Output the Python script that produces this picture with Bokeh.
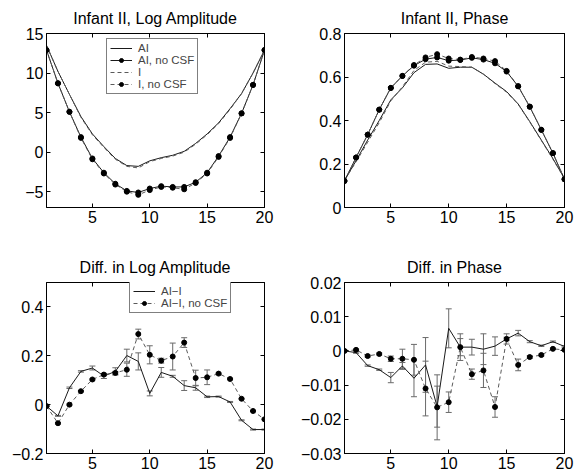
from bokeh.plotting import figure
from bokeh.models import Range1d, FixedTicker, LinearAxis, Whisker, TeeHead, ColumnDataSource
from bokeh.layouts import column, row
from bokeh.embed import file_html
from bokeh.resources import INLINE

x = list(range(1, 21))

# Infant II, Log Amplitude
amp_ai = [13.5, 10.2, 7.3, 4.5, 2.3, 0.7, -0.8, -1.7, -1.8, -1.1, -0.7, -0.4, 0.1, 1.1, 2.3, 3.7, 5.5, 7.4, 10.0, 12.9]
amp_i = [13.5, 10.2, 7.3, 4.4, 2.2, 0.6, -0.9, -1.8, -2.0, -1.2, -0.8, -0.5, 0.0, 1.0, 2.2, 3.6, 5.4, 7.4, 10.0, 12.9]
amp_ai_nocsf = [12.9, 8.7, 5.1, 1.9, -0.8, -2.6, -4.0, -4.9, -5.1, -4.6, -4.3, -4.4, -4.4, -3.8, -2.6, -0.5, 1.9, 4.9, 8.5, 12.9]
amp_i_nocsf = [12.9, 8.7, 5.1, 1.8, -0.9, -2.7, -4.1, -5.0, -5.4, -4.8, -4.4, -4.5, -4.7, -3.9, -2.7, -0.6, 1.8, 4.9, 8.5, 12.9]

# Infant II, Phase
ph_ai = [0.125, 0.215, 0.31, 0.40, 0.495, 0.55, 0.62, 0.658, 0.66, 0.64, 0.645, 0.645, 0.613, 0.572, 0.533, 0.476, 0.395, 0.31, 0.225, 0.133]
ph_i = [0.125, 0.21, 0.30, 0.39, 0.49, 0.555, 0.63, 0.668, 0.672, 0.65, 0.648, 0.645, 0.613, 0.57, 0.53, 0.474, 0.393, 0.308, 0.222, 0.133]
ph_ai_nocsf = [0.122, 0.23, 0.335, 0.45, 0.55, 0.605, 0.652, 0.682, 0.69, 0.675, 0.678, 0.688, 0.68, 0.663, 0.625, 0.557, 0.463, 0.357, 0.25, 0.13]
ph_i_nocsf = [0.122, 0.23, 0.335, 0.45, 0.55, 0.605, 0.655, 0.69, 0.705, 0.685, 0.68, 0.692, 0.685, 0.673, 0.628, 0.558, 0.464, 0.357, 0.25, 0.13]

# Diff. in Log Amplitude
damp = [-0.006, -0.046, 0.069, 0.136, 0.150, 0.117, 0.136, 0.201, 0.177, 0.046, 0.132, 0.116, 0.078, 0.069, 0.032, 0.033, 0.011, -0.064, -0.102, -0.102]
damp_err = [0.002, 0.002, 0.003, 0.003, 0.008, 0.01, 0.015, 0.026, 0.035, 0.01, 0.02, 0.004, 0.02, 0.01, 0.003, 0.002, 0.002, 0.002, 0.002, 0.002]
damp_nocsf = [-0.006, -0.076, 0.0, 0.055, 0.103, 0.123, 0.13, 0.143, 0.289, 0.204, 0.18, 0.197, 0.254, 0.109, 0.112, 0.127, 0.105, 0.024, -0.026, -0.06]
damp_nocsf_err = [0.002, 0.003, 0.003, 0.003, 0.003, 0.005, 0.006, 0.027, 0.02, 0.037, 0.01, 0.055, 0.02, 0.032, 0.03, 0.003, 0.003, 0.002, 0.002, 0.002]

# Diff. in Phase
dph = [0.0, -0.0005, -0.0043, -0.0055, -0.0078, -0.0044, -0.008, -0.0041, -0.0163, 0.0066, 0.0011, 0.0011, 0.0005, 0.0014, 0.0035, 0.0052, 0.0027, 0.0015, 0.0027, 0.0013]
dph_err = [0.0002, 0.0002, 0.0002, 0.0002, 0.0015, 0.001, 0.0054, 0.008, 0.006, 0.0057, 0.0039, 0.0023, 0.0045, 0.0027, 0.0015, 0.0008, 0.0003, 0.0002, 0.0002, 0.0002]
dph_nocsf = [0.0, 0.0003, -0.0015, -0.0009, -0.0023, -0.0023, -0.0026, -0.011, -0.0165, -0.015, 0.0011, -0.0068, -0.0057, -0.0164, 0.0035, -0.0041, -0.0018, -0.0012, 0.0006, 0.0003]
dph_nocsf_err = [0.0002, 0.0002, 0.0003, 0.0003, 0.0008, 0.0028, 0.0045, 0.008, 0.0095, 0.003, 0.0025, 0.0015, 0.005, 0.003, 0.0005, 0.0017, 0.0004, 0.0003, 0.0002, 0.0002]

x_ticks = [5, 10, 15, 20]
amp_ticks = [-5, 0, 5, 10, 15]
amp_labels = ["\u22125", "0", "5", "10", "15"]
ph_ticks = [0, 0.2, 0.4, 0.6, 0.8]
ph_labels = ["0", "0.2", "0.4", "0.6", "0.8"]
damp_ticks = [-0.2, 0, 0.2, 0.4]
damp_labels = ["\u22120.2", "0", "0.2", "0.4"]
dph_ticks = [-0.03, -0.02, -0.01, 0, 0.01, 0.02]
dph_labels = ["\u22120.03", "\u22120.02", "\u22120.01", "0", "0.01", "0.02"]

FONT = "Liberation Sans"
SOLID = "#1a1a1a"
DASH = "#5a5a5a"
ERR = "#6a6a6a"


def make_fig(title, yr, yticks, ylabels, width, height, bl, br, bt, bb):
    p = figure(width=width, height=height, x_range=Range1d(1, 20), y_range=Range1d(*yr),
               output_backend="svg", toolbar_location=None, title=title,
               min_border_left=bl, min_border_right=br, min_border_top=bt, min_border_bottom=bb)
    p.xgrid.visible = False
    p.ygrid.visible = False
    p.outline_line_color = "black"
    p.outline_line_alpha = 1.0
    p.title.text_font = FONT
    p.title.text_font_size = "16px"
    p.title.text_font_style = "normal"
    p.title.align = "center"
    p.title.text_color = "black"
    p.title.standoff = 14
    p.xaxis.ticker = FixedTicker(ticks=x_ticks)
    p.yaxis.ticker = FixedTicker(ticks=yticks)
    p.yaxis.major_label_overrides = {t: l for t, l in zip(yticks, ylabels)}
    for ax in [p.xaxis[0], p.yaxis[0]]:
        ax.major_tick_in = 4
        ax.major_tick_out = 0
        ax.minor_tick_line_color = None
        ax.axis_line_color = "black"
        ax.major_tick_line_color = "black"
        ax.major_label_text_font = FONT
        ax.major_label_text_font_size = "16px"
        ax.major_label_text_color = "black"
        ax.major_label_standoff = 3
    top = LinearAxis(ticker=FixedTicker(ticks=x_ticks), major_tick_in=4, major_tick_out=0,
                     minor_tick_line_color=None, axis_line_color="black",
                     major_label_text_font_size="1px", major_label_text_color=None,
                     major_label_standoff=0)
    right = LinearAxis(ticker=FixedTicker(ticks=yticks), major_tick_in=4, major_tick_out=0,
                       minor_tick_line_color=None, axis_line_color="black",
                       major_label_text_font_size="1px", major_label_text_color=None,
                       major_label_standoff=0)
    p.add_layout(top, "above")
    p.add_layout(right, "right")
    return p


def style_legend(p, loc):
    lg = p.legend[0]
    lg.location = loc
    lg.label_text_font = FONT
    lg.label_text_font_size = "11.5px"
    lg.label_text_line_height = 1.0
    lg.label_height = 10
    lg.glyph_height = 10
    lg.glyph_width = 22
    lg.label_standoff = 6
    lg.spacing = 0
    lg.padding = 3
    lg.margin = 0
    lg.border_line_color = "black"
    lg.border_line_width = 1
    lg.background_fill_alpha = 1.0


W = 290
H1 = 236
H2 = 237

# Panel 1
p1 = make_fig("Infant II, Log Amplitude", (-7, 15), amp_ticks, amp_labels, W, H1, 46, 26, 32, 29)
p1.line(x, amp_ai, line_color=SOLID, line_width=1, legend_label="AI")
p1.line(x, amp_ai_nocsf, line_color=SOLID, line_width=1, legend_label="AI, no CSF")
p1.scatter(x, amp_ai_nocsf, size=5, color="black", legend_label="AI, no CSF")
p1.line(x, amp_i, line_color=DASH, line_width=1, line_dash="4 3", legend_label="I")
p1.line(x, amp_i_nocsf, line_color=DASH, line_width=1, line_dash="4 3", legend_label="I, no CSF")
p1.scatter(x, amp_i_nocsf, size=5, color="black", legend_label="I, no CSF")
style_legend(p1, (60, 113))

# Panel 2
p2 = make_fig("Infant II, Phase", (0, 0.8), ph_ticks, ph_labels, W, H1, 54, 16, 32, 29)
p2.line(x, ph_ai, line_color=SOLID, line_width=1)
p2.line(x, ph_i, line_color=DASH, line_width=1, line_dash="4 3")
p2.line(x, ph_ai_nocsf, line_color=SOLID, line_width=1)
p2.scatter(x, ph_ai_nocsf, size=5, color="black")
p2.line(x, ph_i_nocsf, line_color=DASH, line_width=1, line_dash="4 3")
p2.scatter(x, ph_i_nocsf, size=5, color="black")


def add_err(p, xs, ys, es):
    src = ColumnDataSource(dict(x=xs, lo=[a - b for a, b in zip(ys, es)], hi=[a + b for a, b in zip(ys, es)]))
    w = Whisker(source=src, base="x", lower="lo", upper="hi", line_color=ERR, line_width=1,
                upper_head=TeeHead(size=6, line_color=ERR, line_width=1),
                lower_head=TeeHead(size=6, line_color=ERR, line_width=1))
    p.add_layout(w)


# Panel 3
p3 = make_fig("Diff. in Log Amplitude", (-0.2, 0.5), damp_ticks, damp_labels, W, H2, 46, 26, 46, 20)
add_err(p3, x, damp, damp_err)
add_err(p3, x, damp_nocsf, damp_nocsf_err)
p3.line(x, damp, line_color=SOLID, line_width=1, legend_label="AI\u2212I")
p3.line(x, damp_nocsf, line_color=DASH, line_width=1, line_dash="4 3", legend_label="AI\u2212I, no CSF")
p3.scatter(x, damp_nocsf, size=5, color="black", legend_label="AI\u2212I, no CSF")
style_legend(p3, (83, 140))

# Panel 4
p4 = make_fig("Diff. in Phase", (-0.03, 0.02), dph_ticks, dph_labels, W, H2, 54, 16, 46, 20)
add_err(p4, x, dph, dph_err)
add_err(p4, x, dph_nocsf, dph_nocsf_err)
p4.line(x, dph, line_color=SOLID, line_width=1)
p4.line(x, dph_nocsf, line_color=DASH, line_width=1, line_dash="4 3")
p4.scatter(x, dph_nocsf, size=5, color="black")

layout = column(row(p1, p2, spacing=0), row(p3, p4, spacing=0), spacing=0)
open("out.html", "w").write(file_html(layout, INLINE))
